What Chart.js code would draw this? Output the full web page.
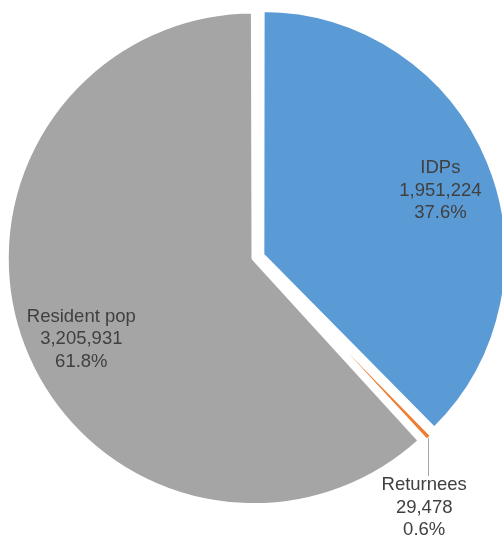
<!DOCTYPE html>
<html lang="en">
<head>
  <meta charset="UTF-8">
  <title>Population breakdown</title>
  <script src="https://cdn.jsdelivr.net/npm/chart.js"></script>
  <style>
    html, body { margin: 0; padding: 0; background: #fff; }
    #wrap { width: 502px; height: 538px; }
  </style>
</head>
<body>
  <div id="wrap"><canvas id="popChart"></canvas></div>

  <script>
    const categories = ['IDPs', 'Returnees', 'Resident pop'];
    const population = [1951224, 29478, 3205931];
    const sliceColors = ['#5B9BD5', '#ED7D31', '#A5A5A5'];

    const total = population.reduce((a, b) => a + b, 0);
    const shiftPx = 7.5; // how far each slice is pulled out

    // chart.js shrinks the offset by /4 and adds a bit more for thin slices,
    // so turn the wanted pixel shift back into its offset option
    function arcOffset(c) {
      const circ = 2 * Math.PI * c.raw / total;
      const fix = 1 - Math.sin(Math.min(Math.PI, circ));
      return shiftPx * 4 / (1 + fix);
    }

    // small hand tweaks so the inside labels sit where excel put them
    const labelNudge = [[4, 7], [0, 0], [5, 12]];

    const sliceLabels = {
      id: 'sliceLabels',
      afterDatasetsDraw(chart) {
        const ctx = chart.ctx;
        const meta = chart.getDatasetMeta(0);
        ctx.save();
        ctx.font = '18.5px "Liberation Sans", Arial, sans-serif';
        ctx.fillStyle = '#404040';
        ctx.textAlign = 'center';
        ctx.textBaseline = 'middle';
        meta.data.forEach((arc, i) => {
          const p = arc.getProps(['x', 'y', 'startAngle', 'endAngle', 'outerRadius']);
          const mid = (p.startAngle + p.endAngle) / 2;
          const dx = Math.cos(mid), dy = Math.sin(mid);
          const ax = p.x + dx * shiftPx, ay = p.y + dy * shiftPx;
          const lines = [
            categories[i],
            population[i].toLocaleString('en-US'),
            (population[i] / total * 100).toFixed(1) + '%'
          ];
          if (i === 1) {
            // thin slice: label below with a leader line
            const tx = ax + dx * (p.outerRadius - 2), ty = ay + dy * (p.outerRadius - 2);
            ctx.strokeStyle = '#A6A6A6';
            ctx.lineWidth = 1;
            ctx.beginPath();
            ctx.moveTo(Math.round(tx) + 0.5, ty + 1);
            ctx.lineTo(Math.round(tx) + 0.5, ty + 39);
            ctx.stroke();
            lines.forEach((t, k) => ctx.fillText(t, tx - 4, ty + 48 + k * 22.5));
          } else {
            const r = p.outerRadius * 0.767;
            const cx = ax + dx * r + labelNudge[i][0];
            const cy = ay + dy * r + labelNudge[i][1];
            lines.forEach((t, k) => ctx.fillText(t, cx, cy + (k - 1) * 22.5));
          }
        });
        ctx.restore();
      }
    };

    new Chart(document.getElementById('popChart'), {
      type: 'pie',
      data: {
        labels: categories,
        datasets: [{
          data: population,
          backgroundColor: sliceColors,
          borderColor: '#FFFFFF',
          borderWidth: 4,
          offset: arcOffset,
          clip: false
        }]
      },
      options: {
        responsive: true,
        maintainAspectRatio: false,
        animation: false,
        radius: 243,
        layout: { padding: { left: 12, right: 0, top: 12, bottom: 36 } },
        plugins: {
          legend: { display: false },
          tooltip: { enabled: false }
        }
      },
      plugins: [sliceLabels]
    });
  </script>
</body>
</html>
